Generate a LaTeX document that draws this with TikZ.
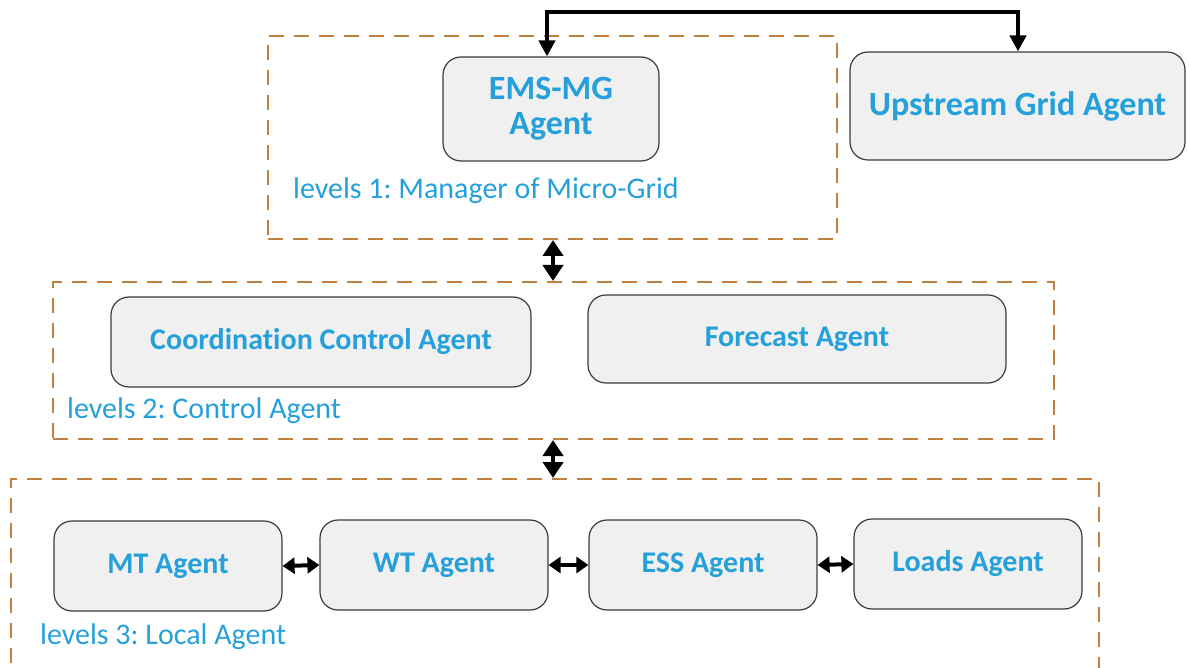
\documentclass[tikz,border=0pt]{standalone}
\usepackage{fontspec}
\setmainfont[Ligatures=NoCommon]{Carlito}
\usetikzlibrary{arrows.meta}
\frenchspacing
\definecolor{txtblue}{RGB}{38,160,218}
\definecolor{dashbrown}{RGB}{192,128,66}
\definecolor{boxfill}{RGB}{240,240,240}
\definecolor{boxline}{RGB}{60,60,60}
\tikzset{
  agent/.style={draw=boxline, line width=1.2pt, fill=boxfill, rounded corners=18pt, inner sep=0pt, text=txtblue, font=\bfseries\fontsize{30}{34}\selectfont, align=center},
  bigagent/.style={agent, font=\bfseries\fontsize{34}{35}\selectfont},
  level/.style={draw=dashbrown, line width=2pt, dash pattern=on 15pt off 10pt},
  lvltext/.style={text=txtblue, font=\fontsize{30}{34}\selectfont, anchor=west, inner sep=0pt},
  link/.style={line width=4pt, {Triangle[length=16pt,width=20pt]}-{Triangle[length=16pt,width=20pt]}},
  smalllink/.style={line width=4pt, {Triangle[length=12pt,width=16pt]}-{Triangle[length=12pt,width=16pt]}},
  toplink/.style={line width=4pt, {Triangle[length=16pt,width=16pt]}-{Triangle[length=16pt,width=16pt]}},
}
\begin{document}
\begin{tikzpicture}[x=1pt,y=-1pt]
\useasboundingbox (0,0) rectangle (1189,668);
% level boxes
\node[level, minimum width=569pt, minimum height=203pt, anchor=north west, inner sep=0pt] (L1) at (267,35) {};
\node[level, minimum width=1001pt, minimum height=157pt, anchor=north west, inner sep=0pt] (L2) at (52,281) {};
\node[level, minimum width=1088pt, minimum height=230pt, anchor=north west, inner sep=0pt] (L3) at (10,478) {};
% agents
\node[bigagent, minimum width=216pt, minimum height=104pt] (ems) at (551,109) {EMS-MG\\Agent};
\node[bigagent, minimum width=335pt, minimum height=108pt] (up) at (1017.5,106) {Upstream Grid Agent};
\node[agent, minimum width=420pt, minimum height=90pt] (cca) at (321,342) {Coordination Control Agent};
\node[agent, minimum width=418pt, minimum height=88pt] (fa) at (797,339) {Forecast Agent};
\node[agent, minimum width=228pt, minimum height=90pt] (mt) at (168,566) {MT Agent};
\node[agent, minimum width=228pt, minimum height=90pt] (wt) at (434,565) {WT Agent};
\node[agent, minimum width=228pt, minimum height=90pt] (ess) at (703,565) {ESS Agent};
\node[agent, minimum width=228pt, minimum height=90pt] (loads) at (968,564) {Loads Agent};
% level texts
\node[lvltext] (t1) at (293,191) {levels 1: Manager of Micro-Grid};
\node[lvltext] (t2) at (67,411) {levels 2: Control Agent};
\node[lvltext] (t3) at (40,637) {levels 3: Local Agent};
% connectors
\coordinate (c1) at (547,12);
\coordinate (c2) at (1018,12);
\draw[toplink] (ems.north -| c1) -- (c1) -- (c2) -- (up.north -| c2);
\draw[link] (L1.south -| 553,0) -- (L2.north -| 553,0);
\draw[link] (L2.south -| 553,0) -- (L3.north -| 553,0);
\draw[smalllink] (mt.east) -- (wt.west);
\draw[smalllink] (wt.east) -- (ess.west);
\draw[smalllink] (ess.east) -- (loads.west);
\end{tikzpicture}
\end{document}
